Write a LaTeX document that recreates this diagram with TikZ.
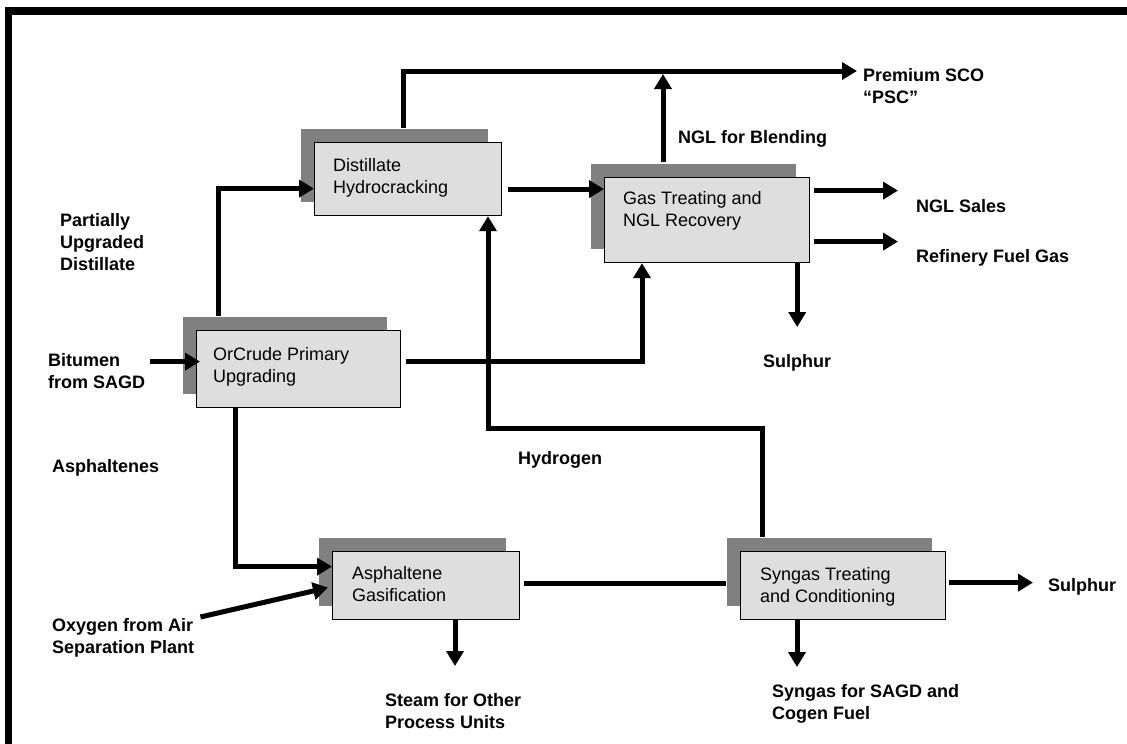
\documentclass[tikz,border=0pt]{standalone}
\usepackage{fontspec}
\setmainfont{Liberation Sans}
\usetikzlibrary{arrows.meta,calc,shadows}

\begin{document}
\begin{tikzpicture}[x=1pt,y=-1pt]
    \definecolor{boxgray}{gray}{0.87}
    \definecolor{shadegray}{gray}{0.5}
    \tikzset{
        unit/.style={draw, line width=1.2pt, fill=boxgray, anchor=north west, inner sep=0pt,
            copy shadow={shadow xshift=-14pt, shadow yshift=14pt, fill=shadegray, draw=none}},
        unittext/.style={anchor=north west, inner sep=0pt, align=left, font=\fontsize{18}{22}\selectfont},
        lbl/.style={unittext, font=\fontsize{18}{22}\selectfont\bfseries},
        pipe/.style={line width=5pt},
        flow/.style={pipe, -{Triangle[length=15pt,width=17pt]}}
    }
    \useasboundingbox (0,0) rectangle (1127,744);
    % frame
    \fill (5,7) rectangle (1127,15);
    \fill (5,7) rectangle (12,744);

    % process units
    \node[unit, minimum width=187pt, minimum height=73pt] (dh) at (314,142) {};
    \node[unit, minimum width=205pt, minimum height=85pt] (gt) at (604,177) {};
    \node[unit, minimum width=204pt, minimum height=77pt] (oc) at (196,330) {};
    \node[unit, minimum width=187pt, minimum height=68pt] (ag) at (332,551) {};
    \node[unit, minimum width=205pt, minimum height=68pt] (st) at (740,551) {};
    \node[unittext] (dhtxt) at ($(dh.north west)+(19,16)$) {Distillate\\Hydrocracking};
    \node[unittext] (gttxt) at ($(gt.north west)+(19,14)$) {Gas Treating and\\NGL Recovery};
    \node[unittext] (octxt) at ($(oc.north west)+(17,17)$) {OrCrude Primary\\Upgrading};
    \node[unittext] (agtxt) at ($(ag.north west)+(20,15)$) {Asphaltene\\Gasification};
    \node[unittext] (sttxt) at ($(st.north west)+(20,16)$) {Syngas Treating\\and Conditioning};

    % stream labels
    \node[lbl] (psc) at (863,68) {Premium SCO\\“PSC”};
    \node[lbl] (blend) at (678,130) {NGL for Blending};
    \node[lbl] (ngls) at (916,199) {NGL Sales};
    \node[lbl] (rfg) at (916,249) {Refinery Fuel Gas};
    \node[lbl] (sul1) at (763,354) {Sulphur};
    \node[lbl] (pud) at (60,213) {Partially\\Upgraded\\Distillate};
    \node[lbl] (bit) at (48,353) {Bitumen\\from SAGD};
    \node[lbl] (asph) at (52,459) {Asphaltenes};
    \node[lbl] (hyd) at (518,451) {Hydrogen};
    \node[lbl] (oxy) at (52,618) {Oxygen from Air\\Separation Plant};
    \node[lbl] (steam) at (385,693) {Steam for Other\\Process Units};
    \node[lbl] (syn) at (772,684) {Syngas for SAGD and\\Cogen Fuel};
    \node[lbl] (sul2) at (1048,578) {Sulphur};

    % streams
    \draw[flow] ($(oc.west)+(-46,-7.5)$) -- ($(oc.west)+(4,-7.5)$);
    \draw[flow] ($(oc.north west)+(22,-14)$) |- ($(dh.west)+(0,9.5)$);
    \draw[flow] ($(dh.north west)+(89,-14)$) |- ($(psc.north west)+(-6,3)$);
    \draw[flow] ($(gt.north west)+(59,-15)$) coordinate (g1) -- ($(g1 |- psc.north west)+(0,6)$);
    \draw[flow] ($(dh.east)+(6,10)$) coordinate (d1) -- (d1 -| gt.west);
    \draw[flow] ($(gt.east)+(4,-29.5)$) coordinate (g2) -- ($(g2 -| ngls.west)+(-18,0)$);
    \draw[flow] ($(gt.east)+(4,21.5)$) coordinate (g3) -- ($(g3 -| rfg.west)+(-18,0)$);
    \draw[flow] ($(gt.south east)+(-13,0)$) coordinate (g4) -- ($(g4 |- sul1.north)+(0,-27)$);
    \draw[flow] ($(oc.east)+(5,-7.5)$) -| ($(gt.south west)+(38,0)$);
    \draw[flow] ($(st.north west)+(22,-14)$) coordinate (s1) -- ($(s1 |- hyd.north)+(0,-23)$) -| ($(dh.south west)+(174,0)$);
    \draw[flow] ($(oc.south west)+(39,0)$) |- ($(ag.west)+(0,-19)$);
    \draw[flow] ($(oxy.north east)+(6,-1)$) -- ($(ag.west)+(-4,2)$);
    \draw[pipe] ($(ag.east)+(4,-2)$) coordinate (a1) -- ($(a1 -| st.west)+(-14,0)$);
    \draw[flow] ($(ag.south west)+(123,0)$) coordinate (a2) -- ($(a2 |- steam.north)+(0,-27)$);
    \draw[flow] ($(st.south west)+(57,0)$) coordinate (s2) -- ($(s2 |- syn.north)+(0,-17)$);
    \draw[flow] ($(st.east)+(3,-3)$) coordinate (s3) -- ($(s3 -| sul2.west)+(-15,0)$);
\end{tikzpicture}
\end{document}
